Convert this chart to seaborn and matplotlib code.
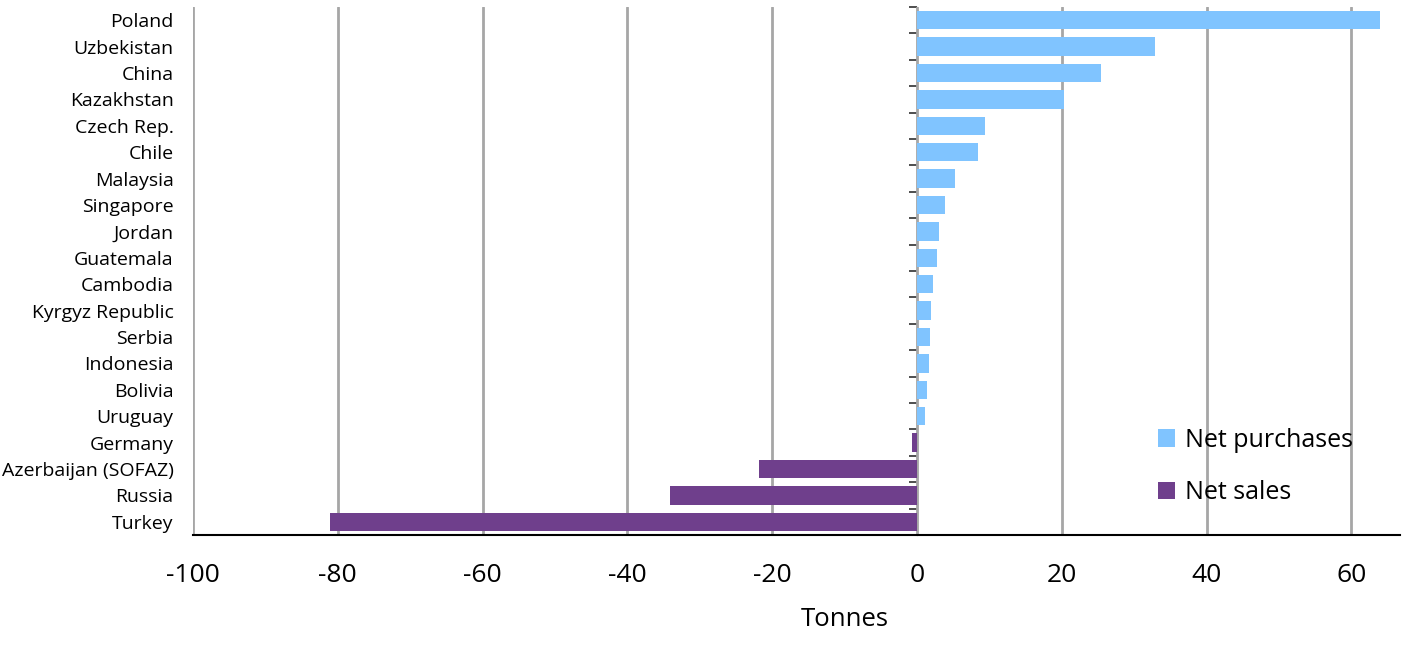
#Central bank gold purchases and sales - horizontal bar chart
import numpy as np
import matplotlib
matplotlib.use('Agg')
import matplotlib.pyplot as plt
import seaborn as sns
import pandas as pd

countries = ['Poland', 'Uzbekistan', 'China', 'Kazakhstan', 'Czech Rep.', 'Chile',
             'Malaysia', 'Singapore', 'Jordan', 'Guatemala', 'Cambodia',
             'Kyrgyz Republic', 'Serbia', 'Indonesia', 'Bolivia', 'Uruguay',
             'Germany', 'Azerbaijan (SOFAZ)', 'Russia', 'Turkey']
tonnes = [63.9, 32.8, 25.4, 20.3, 9.4, 8.4, 5.2, 3.9, 3.0, 2.8, 2.2,
          1.9, 1.8, 1.7, 1.4, 1.1, -0.7, -21.8, -34.1, -81.1]
series_names = ['Net purchases', 'Net sales']
colors = ['#80C4FF', '#6F3F8C']

df = pd.DataFrame({'country': countries, 'tonnes': tonnes})
df['kind'] = np.where(df['tonnes'] >= 0, series_names[0], series_names[1])

#Graph styles
sns.set_style('white')
plt.rcParams['font.family'] = ['Open Sans', 'DejaVu Sans']
plt.rcParams['axes.unicode_minus'] = False
plt.rcParams['text.color'] = 'black'
plt.rcParams['axes.labelcolor'] = 'black'
plt.rcParams['xtick.labelcolor'] = 'black'
plt.rcParams['ytick.labelcolor'] = 'black'

fig = plt.figure(figsize=(14.02, 6.48), dpi=100)
ax = fig.add_axes([193/1402, 1-535/648, 1207/1402, 528/648])

sns.barplot(data=df, x='tonnes', y='country', hue='kind', hue_order=series_names,
            palette=colors, dodge=False, width=0.7, orient='h', ax=ax, saturation=1,
            linewidth=0)

xmin, xmax = -100, 66.7
ax.set_xlim(xmin, xmax)
ax.set_ylim(len(countries)-0.5, -0.5)
ax.set_xticks(np.arange(-100, 61, 20))
ax.xaxis.grid(True, color='#A6A6A6', linewidth=2.0)
ax.set_axisbelow(True)
for s in ['left', 'right', 'top']:
    ax.spines[s].set_visible(False)
ax.spines['bottom'].set_color('black')
ax.spines['bottom'].set_linewidth(1.5)
ax.tick_params(axis='x', length=0, pad=20, labelsize=19, labelcolor='black')
ax.tick_params(axis='y', length=0, pad=14, labelsize=14, labelcolor='black')
ax.set_ylabel('')
ax.set_xlabel('Tonnes', fontsize=18.5, labelpad=14, x=0.54, color='black')

#Zero line with ticks between categories
loc0 = (0 - xmin) / (xmax - xmin)
sec = ax.secondary_yaxis(loc0)
sec.set_yticks(np.arange(len(countries)) - 0.5)
sec.set_yticklabels([])
sec.yaxis.set_ticks_position('left')
sec.tick_params(length=6, width=1.2, color='#303030', direction='out')
sec.spines['left'].set_color('#606060')
sec.spines['left'].set_linewidth(1.5)

leg = ax.legend(loc='upper left', bbox_to_anchor=(0.791, 0.222), frameon=False, fontsize=18,
                handlelength=0.7, handleheight=0.7, handletextpad=0.4, labelspacing=1.1,
                borderaxespad=0)
for t in leg.get_texts():
    t.set_color('black')

plt.savefig('out.png', dpi=100)
